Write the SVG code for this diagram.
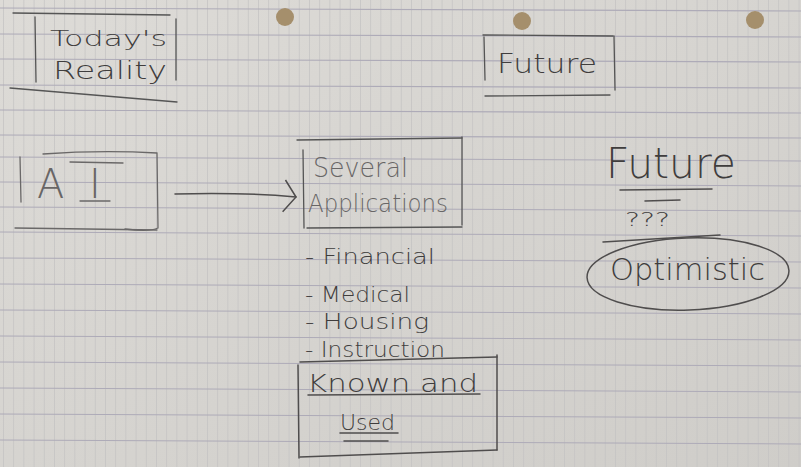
<svg xmlns="http://www.w3.org/2000/svg" width="801" height="467" viewBox="0 0 801 467">
<defs>
<linearGradient id="paper" x1="0" y1="0" x2="1" y2="1">
<stop offset="0" stop-color="#dddbd7"/>
<stop offset="1" stop-color="#cfcdc9"/>
</linearGradient>
<pattern id="vgrid" x="3" y="0" width="10.2" height="467" patternUnits="userSpaceOnUse">
<line x1="0.5" y1="0" x2="0.5" y2="467" stroke="#c4c2c2" stroke-width="0.8"/>
</pattern>
<marker id="arr" markerWidth="16" markerHeight="36" refX="13" refY="18" orient="auto" markerUnits="userSpaceOnUse">
<path d="M1,2 L13,18 L1,34" fill="none" stroke="#4e4c4c" stroke-width="1.5"/>
</marker>
</defs>
<style>
.ink{fill:none;stroke:#4f4d4d;stroke-width:1.5;stroke-linecap:round}
.ink2{fill:none;stroke:#555;stroke-width:1.3;stroke-linecap:round}
.pale{fill:none;stroke:#6a6868;stroke-width:1.3;stroke-linecap:round}
.hw{font-family:"DejaVu Sans","Liberation Sans",sans-serif;font-weight:300;fill:#3f3d3d}
.lt{fill:#686666}
.rule{stroke:#aeabb8;stroke-width:1.1}
</style>
<rect width="801" height="467" fill="url(#paper)"/>
<rect width="801" height="467" fill="url(#vgrid)"/>
<g id="rules">
<line class="rule" x1="0" y1="8" x2="801" y2="11"/>
<line class="rule" x1="0" y1="34" x2="801" y2="37"/>
<line class="rule" x1="0" y1="59" x2="801" y2="62"/>
<line class="rule" x1="0" y1="85" x2="801" y2="88"/>
<line class="rule" x1="0" y1="110" x2="801" y2="113"/>
<line class="rule" x1="0" y1="135" x2="801" y2="138"/>
<line class="rule" x1="0" y1="157" x2="801" y2="161"/>
<line class="rule" x1="0" y1="182" x2="801" y2="186"/>
<line class="rule" x1="0" y1="207" x2="801" y2="211"/>
<line class="rule" x1="0" y1="232" x2="801" y2="236"/>
<line class="rule" x1="0" y1="258" x2="801" y2="262"/>
<line class="rule" x1="0" y1="284" x2="801" y2="288"/>
<line class="rule" x1="0" y1="310" x2="801" y2="314"/>
<line class="rule" x1="0" y1="336" x2="801" y2="340"/>
<line class="rule" x1="0" y1="362" x2="801" y2="366"/>
<line class="rule" x1="0" y1="388" x2="801" y2="392"/>
<line class="rule" x1="0" y1="414" x2="801" y2="418"/>
<line class="rule" x1="0" y1="440" x2="801" y2="444"/>
</g>
<g id="holes" fill="#a58f6c">
<circle cx="285" cy="17" r="9"/>
<circle cx="522" cy="21" r="9"/>
<circle cx="755" cy="20" r="9"/>
</g>
<g id="todays-reality">
<path class="ink2" d="M13,13 L170,15"/>
<path class="ink2" d="M35,17 L36,82"/>
<path class="ink2" d="M176,19 L176,80"/>
<path class="ink2" d="M10,88 L177,102"/>
<text class="hw" x="50" y="46" font-size="22" textLength="117" lengthAdjust="spacingAndGlyphs">Today's</text>
<text class="hw" x="53" y="79" font-size="24" textLength="114" lengthAdjust="spacingAndGlyphs">Reality</text>
</g>
<g id="future-box">
<path class="ink2" d="M483,35 L613,36"/>
<path class="ink2" d="M484,37 L485,80"/>
<path class="ink2" d="M614,36 L615,90"/>
<path class="ink2" d="M485,96 L610,95"/>
<text class="hw" x="497" y="73" font-size="26" textLength="100" lengthAdjust="spacingAndGlyphs">Future</text>
</g>
<g id="ai">
<path class="pale" d="M43,154 Q100,150 157,153 L158,228 Q150,232 125,229"/>
<path class="pale" d="M20,157 L21,202"/>
<path class="pale" d="M15,228 L157,230"/>
<text class="hw lt" font-size="40"><tspan x="37" y="198">A</tspan><tspan x="89" y="198">I</tspan></text>
<path class="pale" d="M70,162 L123,163"/>
<path class="pale" d="M80,201 L110,201"/>
</g>
<g id="connectors">
<path class="ink" d="M175,194 Q240,192 296,197" marker-end="url(#arr)"/>
</g>
<g id="several-applications">
<path class="ink2" d="M297,140 L462,138"/>
<path class="ink2" d="M303,150 L304,228"/>
<path class="ink2" d="M462,137 L462,225"/>
<path class="ink2" d="M307,228 L462,227"/>
<text class="hw lt" x="313" y="177" font-size="26" textLength="95" lengthAdjust="spacingAndGlyphs">Several</text>
<text class="hw lt" x="308" y="212" font-size="24" textLength="140" lengthAdjust="spacingAndGlyphs">Applications</text>
</g>
<g id="list">
<text class="hw" x="305" y="264" font-size="22" textLength="130" lengthAdjust="spacingAndGlyphs">- Financial</text>
<text class="hw" x="305" y="302" font-size="22" textLength="105" lengthAdjust="spacingAndGlyphs">- Medical</text>
<text class="hw" x="305" y="329" font-size="22" textLength="124" lengthAdjust="spacingAndGlyphs">- Housing</text>
<text class="hw" x="305" y="357" font-size="22" textLength="140" lengthAdjust="spacingAndGlyphs">- Instruction</text>
</g>
<g id="known-and-used">
<path class="ink" d="M300,362 L497,357"/>
<path class="ink" d="M497,355 L497,450"/>
<path class="ink" d="M298,365 L299,458"/>
<path class="ink" d="M300,457 L497,450"/>
<text class="hw" x="307" y="392" font-size="24" textLength="171" lengthAdjust="spacingAndGlyphs">Known and</text>
<path class="ink" d="M308,395 L480,394"/>
<text class="hw" x="340" y="430" font-size="22" textLength="55" lengthAdjust="spacingAndGlyphs">Used</text>
<path class="ink" d="M340,433 L398,433"/>
<path class="ink" d="M344,441 L388,441"/>
</g>
<g id="future-optimistic">
<text class="hw" x="606" y="178" font-size="42" textLength="130" lengthAdjust="spacingAndGlyphs">Future</text>
<path class="ink" d="M620,190 L712,189"/>
<path class="ink" d="M645,201 L680,200"/>
<text class="hw" x="625" y="226" font-size="20" textLength="45" lengthAdjust="spacingAndGlyphs">???</text>
<path class="ink" d="M603,242 L720,235"/>
<ellipse class="ink" cx="688" cy="274" rx="101" ry="36" transform="rotate(-2 688 274)"/>
<text class="hw" x="610" y="280" font-size="30" textLength="155" lengthAdjust="spacingAndGlyphs">Optimistic</text>
</g>
</svg>
